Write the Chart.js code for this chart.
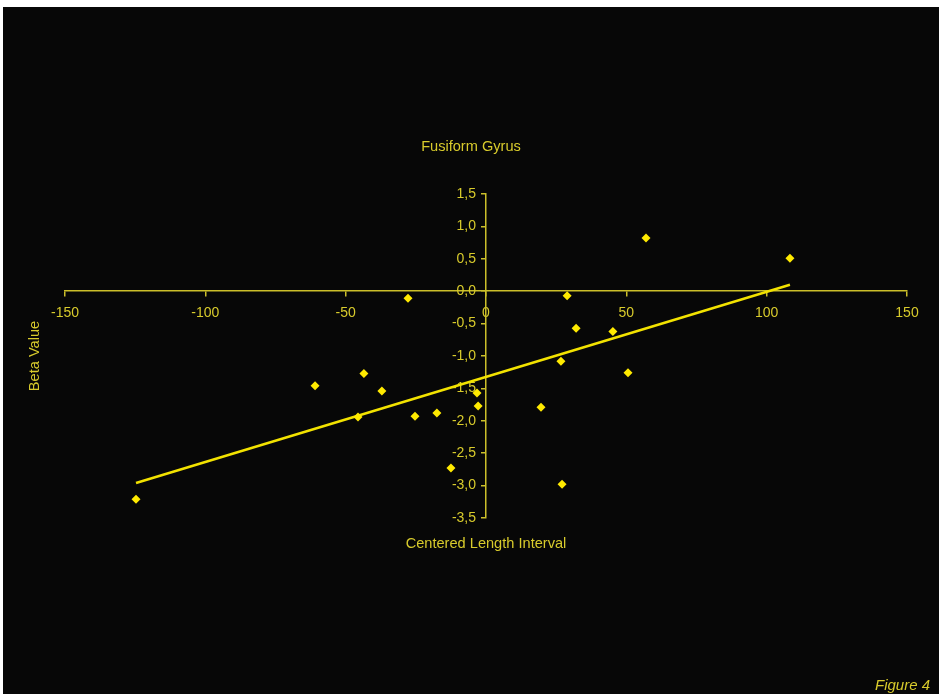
<!DOCTYPE html>
<html>
<head>
<meta charset="utf-8">
<script src="https://cdn.jsdelivr.net/npm/chart.js@4/dist/chart.umd.min.js"></script>
<style>
  html, body { margin: 0; padding: 0; background: #ffffff; }
  #frame { position: absolute; left: 3px; top: 7px; width: 936px; height: 687px; background: #070707; }
  canvas { position: absolute; left: 0; top: 0; }
</style>
</head>
<body>
<div id="frame"></div>
<canvas id="c" width="939" height="694"></canvas>
<script>
// Centered length interval (x) vs. beta value (y), fusiform gyrus
const lengthInterval = [-124.7, -60.9, -43.5, -37.1, -45.6, -27.8, -25.3, -17.5, -12.5, -3.2,
                        -2.8, 19.6, 26.7, 27.1, 28.9, 32.1, 45.2, 50.6, 57.0, 108.3];
const betaValue      = [-3.21, -1.46, -1.27, -1.54, -1.94, -0.11, -1.93, -1.88, -2.73, -1.57,
                        -1.77, -1.79, -1.08, -2.98, -0.07, -0.57, -0.62, -1.26, 0.82, 0.51];
// Linear trend line end points
const trendX = [-124.7, 108.3];
const trendY = [-2.96, 0.10];

const xTicks = [-150, -100, -50, 0, 50, 100, 150];
const yTicks = [1.5, 1.0, 0.5, 0.0, -0.5, -1.0, -1.5, -2.0, -2.5, -3.0, -3.5];

const labelColor = '#d8cb2c';
const axisColor = '#cbbf2a';
const markColor = '#ffea00';
const fontFamily = '"Liberation Sans", Arial, sans-serif';

const points = lengthInterval.map((x, i) => ({ x: x, y: betaValue[i] }));
const trend = trendX.map((x, i) => ({ x: x, y: trendY[i] }));

// Moves the value axis so it crosses the horizontal axis at x = 0,
// keeping a strip on its left for the tick labels
const crossAxis = {
  id: 'crossAxis',
  afterLayout(chart) {
    const ys = chart.scales.y;
    const px = chart.scales.x.getPixelForValue(0);
    ys.left = px - 60;
    ys.right = px;
    ys.width = 60;
  }
};

const textPlugin = {
  id: 'texts',
  afterDraw(chart) {
    const ctx = chart.ctx;
    ctx.save();
    ctx.fillStyle = labelColor;
    ctx.font = '14.6px ' + fontFamily;
    ctx.textAlign = 'center';
    ctx.textBaseline = 'middle';
    ctx.fillText('Fusiform Gyrus', 471, 147);
    ctx.fillText('Centered Length Interval', 486, 544);
    ctx.save();
    ctx.translate(35, 356);
    ctx.rotate(-Math.PI / 2);
    ctx.fillText('Beta Value', 0, 0);
    ctx.restore();
    ctx.font = 'italic 15px ' + fontFamily;
    ctx.textAlign = 'right';
    ctx.fillText('Figure 4', 930, 686);
    ctx.restore();
  }
};

new Chart(document.getElementById('c'), {
  type: 'scatter',
  data: {
    datasets: [
      {
        label: 'Beta',
        data: points,
        pointStyle: 'rectRot',
        pointRadius: 4.5,
        backgroundColor: markColor,
        borderColor: markColor,
        borderWidth: 0,
        showLine: false
      },
      {
        label: 'Trend',
        data: trend,
        showLine: true,
        pointRadius: 0,
        borderColor: '#f2e200',
        borderWidth: 2.5,
        fill: false
      }
    ]
  },
  options: {
    responsive: false,
    animation: false,
    layout: { padding: { left: 65, right: 32, top: 194, bottom: 176 } },
    plugins: {
      legend: { display: false },
      tooltip: { enabled: false },
      title: { display: false }
    },
    scales: {
      x: {
        type: 'linear',
        position: { y: 0 },
        min: -150, max: 150,
        afterBuildTicks: (axis) => { axis.ticks = xTicks.map(v => ({ value: v })); },
        grid: { display: true, drawOnChartArea: false, drawTicks: true, tickLength: 5, color: axisColor, lineWidth: 1.5 },
        border: { display: true, color: axisColor, width: 1.5 },
        ticks: {
          color: labelColor,
          padding: 9,
          maxRotation: 0,
          font: { family: fontFamily, size: 14 },
          callback: (v) => String(v)
        }
      },
      y: {
        type: 'linear',
        position: 'left',
        min: -3.5, max: 1.5,
        afterBuildTicks: (axis) => { axis.ticks = yTicks.map(v => ({ value: v })); },
        afterFit: (axis) => { axis.width = 0; },
        grid: { display: true, drawOnChartArea: false, drawTicks: true, tickLength: 5, color: axisColor, lineWidth: 1.5 },
        border: { display: true, color: axisColor, width: 1.5 },
        ticks: {
          color: labelColor,
          padding: 5,
          font: { family: fontFamily, size: 14 },
          callback: (v) => Number(v).toFixed(1).replace('.', ',')
        }
      }
    }
  },
  plugins: [crossAxis, textPlugin]
});
</script>
</body>
</html>
